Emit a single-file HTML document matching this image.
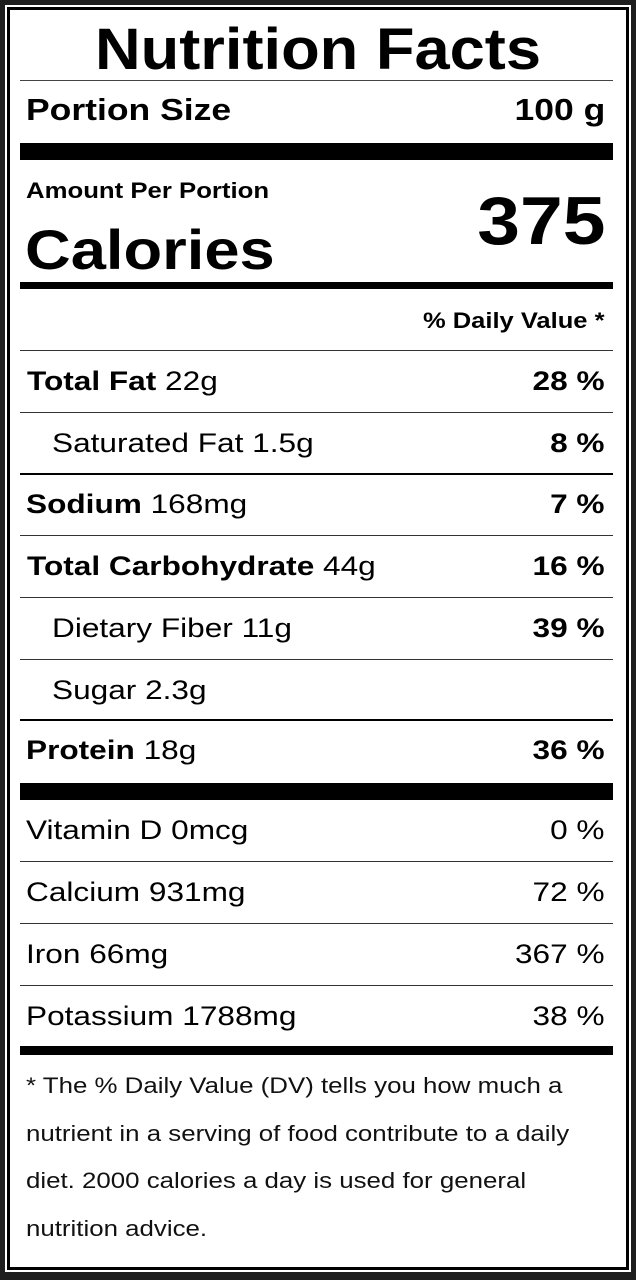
<!DOCTYPE html>
<html><head><meta charset="utf-8"><style>
*{margin:0;padding:0;box-sizing:border-box}
body{width:636px;height:1280px;background:#1e1e1e;position:relative;overflow:hidden;font-family:"Liberation Sans",Arimo,Arial,Helvetica,sans-serif;color:#000}
.outer{position:absolute;left:5px;top:5px;width:626px;height:1267px;background:#fff}
.inner{position:absolute;left:2px;top:2px;right:2px;bottom:2px;border:3px solid #000;background:#fff}
.t{position:absolute;white-space:nowrap;line-height:1;transform:scaleX(1.17);transform-origin:left center}
.r{right:31px;text-align:right;transform-origin:right center}
.h{position:absolute;left:20px;width:593px;background:#000}
b{font-weight:bold}
.row{font-size:27px}
.foot{font-size:22px;left:26px;color:#111;transform:scaleX(1.175)}
</style></head><body>
<div class="outer"><div class="inner"></div></div>
<div class="t" style="left:0;width:636px;text-align:center;top:21px;font-size:58px;font-weight:bold;transform:scaleX(1.09);transform-origin:center">Nutrition Facts</div>
<div class="h" style="top:80px;height:1px;background:#444"></div>
<div class="t" style="left:26px;top:94px;font-size:31px;font-weight:bold;transform:scaleX(1.145)">Portion Size</div>
<div class="t r" style="top:94px;font-size:31px;font-weight:bold;transform:scaleX(1.145)">100 g</div>
<div class="h" style="top:143px;height:17px"></div>
<div class="t" style="left:26px;top:180px;font-size:22px;font-weight:bold">Amount Per Portion</div>
<div class="t" style="left:25px;top:222px;font-size:56px;font-weight:bold;transform:scaleX(1.13)">Calories</div>
<div class="t r" style="top:187px;font-size:68px;font-weight:bold;transform:scaleX(1.13)">375</div>
<div class="h" style="top:282px;height:7px"></div>
<div class="t r" style="top:310px;font-size:22px;font-weight:bold;transform:scaleX(1.16)">% Daily Value *</div>
<div class="h" style="top:350px;height:1px;background:#333"></div>
<div class="t row" style="left:27px;top:368px"><b>Total Fat</b> 22g</div><div class="t r row" style="top:368px"><b>28 %</b></div>
<div class="h" style="top:412px;height:1px;background:#333"></div>
<div class="t row" style="left:52px;top:430px">Saturated Fat 1.5g</div><div class="t r row" style="top:430px"><b>8 %</b></div>
<div class="h" style="top:473px;height:2px"></div>
<div class="t row" style="left:26px;top:491px"><b>Sodium</b> 168mg</div><div class="t r row" style="top:491px"><b>7 %</b></div>
<div class="h" style="top:535px;height:1px;background:#333"></div>
<div class="t row" style="left:27px;top:553px"><b>Total Carbohydrate</b> 44g</div><div class="t r row" style="top:553px"><b>16 %</b></div>
<div class="h" style="top:597px;height:1px;background:#333"></div>
<div class="t row" style="left:52px;top:615px">Dietary Fiber 11g</div><div class="t r row" style="top:615px"><b>39 %</b></div>
<div class="h" style="top:659px;height:1px;background:#333"></div>
<div class="t row" style="left:52px;top:677px">Sugar 2.3g</div>
<div class="h" style="top:719px;height:2px"></div>
<div class="t row" style="left:26px;top:737px"><b>Protein</b> 18g</div><div class="t r row" style="top:737px"><b>36 %</b></div>
<div class="h" style="top:783px;height:17px"></div>
<div class="t row" style="left:26px;top:817px">Vitamin D 0mcg</div><div class="t r row" style="top:817px">0 %</div>
<div class="h" style="top:861px;height:1px;background:#333"></div>
<div class="t row" style="left:26px;top:879px">Calcium 931mg</div><div class="t r row" style="top:879px">72 %</div>
<div class="h" style="top:923px;height:1px;background:#333"></div>
<div class="t row" style="left:26px;top:941px">Iron 66mg</div><div class="t r row" style="top:941px">367 %</div>
<div class="h" style="top:985px;height:1px;background:#333"></div>
<div class="t row" style="left:26px;top:1003px">Potassium 1788mg</div><div class="t r row" style="top:1003px">38 %</div>
<div class="h" style="top:1046px;height:9px"></div>
<div class="t foot" style="top:1075px">* The % Daily Value (DV) tells you how much a</div>
<div class="t foot" style="top:1123px">nutrient in a serving of food contribute to a daily</div>
<div class="t foot" style="top:1170px">diet. 2000 calories a day is used for general</div>
<div class="t foot" style="top:1218px">nutrition advice.</div>
</body></html>
